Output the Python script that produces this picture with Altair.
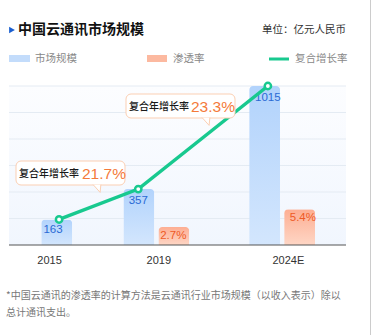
import altair as alt
import pandas as pd

years = [2015, 2019, 2024]
year_labels = ["2015", "2019", "2024E"]
market_size = [163, 357, 1015]
penetration = [None, 2.7, 5.4]
size_labels = ["163", "357", "1015"]
rate_labels = [None, "2.7%", "5.4%"]
cagr_labels = ["21.7%", "23.3%"]

FONT = "Noto Sans CJK SC"
NUMFONT = "Liberation Sans"
W, H = 372, 335
X0, X1 = 9, 346
Y_BASE, Y_TOP = 245, 86
XDOM = [2013.3, 2026.3]
PX_PER_YEAR = (X1 - X0) / (XDOM[1] - XDOM[0])

df = pd.DataFrame({
    "year": years, "label": year_labels, "size": market_size,
    "rate": penetration, "size_label": size_labels, "rate_label": rate_labels,
})

xs = alt.Scale(domain=XDOM, range=[X0, X1])
ys_size = alt.Scale(domain=[0, 1015], range=[Y_BASE, Y_TOP])
ys_rate = alt.Scale(domain=[0, 24], range=[Y_BASE, Y_TOP])

one = pd.DataFrame({"a": [0]})

bg = alt.Chart(one).mark_rect(
    color=alt.Gradient(gradient="linear", x1=0, x2=0, y1=0, y2=1,
                       stops=[alt.GradientStop(color="#fcfdff", offset=0),
                              alt.GradientStop(color="#f1f6fe", offset=1)])
).encode(x=alt.value(X0), x2=alt.value(X1), y=alt.value(Y_TOP), y2=alt.value(Y_BASE))

grid_vals = [1015 * i / 6 for i in range(1, 7)]
grid = alt.Chart(pd.DataFrame({"g": grid_vals})).mark_rule(color="#e4ebf3", strokeWidth=1).encode(
    x=alt.value(X0), x2=alt.value(X1), y=alt.Y("g:Q", scale=ys_size, axis=None))

baseline = alt.Chart(one).mark_rule(color="#555555", strokeWidth=1.2).encode(
    x=alt.value(X0), x2=alt.value(X1), y=alt.value(Y_BASE))

blue_grad = alt.Gradient(gradient="linear", x1=0, x2=0, y1=0, y2=1,
                         stops=[alt.GradientStop(color="#b2d3fc", offset=0),
                                alt.GradientStop(color="#d3e6fd", offset=1)])
orange_grad = alt.Gradient(gradient="linear", x1=0, x2=0, y1=0, y2=1,
                           stops=[alt.GradientStop(color="#fdae93", offset=0),
                                  alt.GradientStop(color="#fed6c5", offset=1)])

base = alt.Chart(df)
B_OFF, O_OFF = -18.5, 16.5
X_ENC = alt.X("year:Q", scale=xs, axis=None)

blue_single = base.transform_filter("datum.rate == null").mark_bar(
    width=31, color=blue_grad, cornerRadiusTopLeft=4, cornerRadiusTopRight=4
).encode(x=X_ENC, y=alt.Y("size:Q", scale=ys_size, axis=None))
blue_pair = base.transform_filter("datum.rate != null").mark_bar(
    width=31, color=blue_grad, cornerRadiusTopLeft=4, cornerRadiusTopRight=4, xOffset=B_OFF
).encode(x=X_ENC, y=alt.Y("size:Q", scale=ys_size, axis=None))
orange = base.transform_filter("datum.rate != null").mark_bar(
    width=31, color=orange_grad, cornerRadiusTopLeft=4, cornerRadiusTopRight=4, xOffset=O_OFF
).encode(x=X_ENC, y=alt.Y("rate:Q", scale=ys_rate, axis=None))

blue_txt1 = base.transform_filter("datum.rate == null").mark_text(
    font=NUMFONT, fontSize=11.5, color="#2a6ad4", baseline="top", dy=5
).encode(x=X_ENC, y=alt.Y("size:Q", scale=ys_size, axis=None), text="size_label:N")
blue_txt2 = base.transform_filter("datum.rate != null").mark_text(
    font=NUMFONT, fontSize=11.5, color="#2a6ad4", baseline="top", dy=6, xOffset=B_OFF
).encode(x=X_ENC, y=alt.Y("size:Q", scale=ys_size, axis=None), text="size_label:N")
orange_txt = base.transform_filter("datum.rate != null").mark_text(
    font=NUMFONT, fontSize=11.5, color="#ee5a26", baseline="top", dy=3, xOffset=O_OFF
).encode(x=X_ENC, y=alt.Y("rate:Q", scale=ys_rate, axis=None), text="rate_label:N")

line_base = base.transform_calculate(
    lx=f"datum.rate == null ? datum.year + {6 / PX_PER_YEAR} : datum.year + {B_OFF / PX_PER_YEAR}")
line = line_base.mark_line(color="#18c98f", strokeWidth=3.5).encode(
    x=alt.X("lx:Q", scale=xs, axis=None), y=alt.Y("size:Q", scale=ys_size, axis=None))
pts = line_base.mark_point(shape="circle", filled=True, fill="white", stroke="#18c98f",
                           strokeWidth=2.5, size=40, opacity=1).encode(
    x=alt.X("lx:Q", scale=xs, axis=None), y=alt.Y("size:Q", scale=ys_size, axis=None))

xlabels = base.transform_calculate(
    tx=f"datum.rate == null ? datum.year - {3.5 / PX_PER_YEAR} : datum.year + {2 / PX_PER_YEAR}"
).mark_text(font=NUMFONT, fontSize=11, color="#333333", baseline="middle").encode(
    x=alt.X("tx:Q", scale=xs, axis=None), y=alt.value(261), text="label:N")


def callout(x0, x1, y0, y1, tail_x, tail_y, val, tx, vx):
    box = alt.Chart(one).mark_rect(fill="white", stroke="#fbcfb3", strokeWidth=1, cornerRadius=5).encode(
        x=alt.value(x0), x2=alt.value(x1), y=alt.value(y0), y2=alt.value(y1))
    tail = alt.Chart(one).mark_point(
        shape="M -1 -1 L 0.8 1 L 1 -1", filled=True, fill="white", stroke="#fbcfb3",
        strokeWidth=1, size=60, opacity=1).encode(x=alt.value(tail_x), y=alt.value(tail_y))
    t1 = alt.Chart(one).mark_text(text="复合年增长率", font=FONT, fontSize=10, fontWeight=500,
                                  color="#1a1a1a", align="left", baseline="middle").encode(
        x=alt.value(tx), y=alt.value((y0 + y1) / 2 + 0.5))
    t2 = alt.Chart(one).mark_text(text=val, font=NUMFONT, fontSize=15.5, color="#f47a3a",
                                  align="left", baseline="middle").encode(
        x=alt.value(vx), y=alt.value((y0 + y1) / 2 + 0.5))
    return [box, tail, t1, t2]


c1 = callout(16, 125, 161, 185, 97, 188.5, cagr_labels[0], 19, 82)
c2 = callout(126, 235, 94, 118, 206, 121.5, cagr_labels[1], 129, 191)

tri = alt.Chart(one).mark_point(shape="M -0.7 -1 L 1 0 L -0.7 1 Z", filled=True, color="#1a5fd0",
                                size=45, opacity=1).encode(x=alt.value(11.5), y=alt.value(30))
title = alt.Chart(one).mark_text(text="中国云通讯市场规模", font=FONT, fontSize=14, fontWeight="bold",
                                 color="#111111", align="left", baseline="middle").encode(
    x=alt.value(18), y=alt.value(30))
unit = alt.Chart(one).mark_text(text="单位：亿元人民币", font=FONT, fontSize=10.5, color="#333333",
                                align="right", baseline="middle").encode(x=alt.value(346), y=alt.value(30))

leg_blue = alt.Chart(one).mark_rect(color="#c3dcfb").encode(
    x=alt.value(9), x2=alt.value(30), y=alt.value(55), y2=alt.value(62))
leg_orange = alt.Chart(one).mark_rect(color="#fcb9a0").encode(
    x=alt.value(147), x2=alt.value(167), y=alt.value(55), y2=alt.value(62))
leg_green = alt.Chart(one).mark_rule(color="#18c98f", strokeWidth=3).encode(
    x=alt.value(269), x2=alt.value(289), y=alt.value(59))


def leg_text(t, x):
    return alt.Chart(one).mark_text(text=t, font=FONT, fontSize=10.5, color="#888888",
                                    align="left", baseline="middle").encode(x=alt.value(x), y=alt.value(59))


legs = [leg_blue, leg_orange, leg_green,
        leg_text("市场规模", 35), leg_text("渗透率", 173), leg_text("复合增长率", 295)]

foot1 = alt.Chart(one).mark_text(text="*中国云通讯的渗透率的计算方法是云通讯行业市场规模（以收入表示）除以",
                                 font=FONT, fontSize=10, color="#777777", align="left", baseline="middle").encode(
    x=alt.value(6), y=alt.value(296))
foot2 = alt.Chart(one).mark_text(text="总计通讯支出。", font=FONT, fontSize=10, color="#777777",
                                 align="left", baseline="middle").encode(x=alt.value(6), y=alt.value(313))

border = alt.Chart(one).mark_rule(color="#cccccc", strokeWidth=1).encode(
    x=alt.value(370.5), y=alt.value(0), y2=alt.value(H))

layers = [bg, grid, blue_single, blue_pair, orange, baseline, blue_txt1, blue_txt2, orange_txt,
          line, pts, xlabels] + c1 + c2 + [tri, title, unit] + legs + [foot1, foot2, border]

chart = alt.layer(*layers).resolve_scale(x="independent", y="independent").properties(
    width=W, height=H, padding=0, autosize=alt.AutoSizeParams(type="none"), background="white"
).configure_view(stroke=None)

chart.save("out.html", embed_options={"renderer": "svg", "actions": False})
